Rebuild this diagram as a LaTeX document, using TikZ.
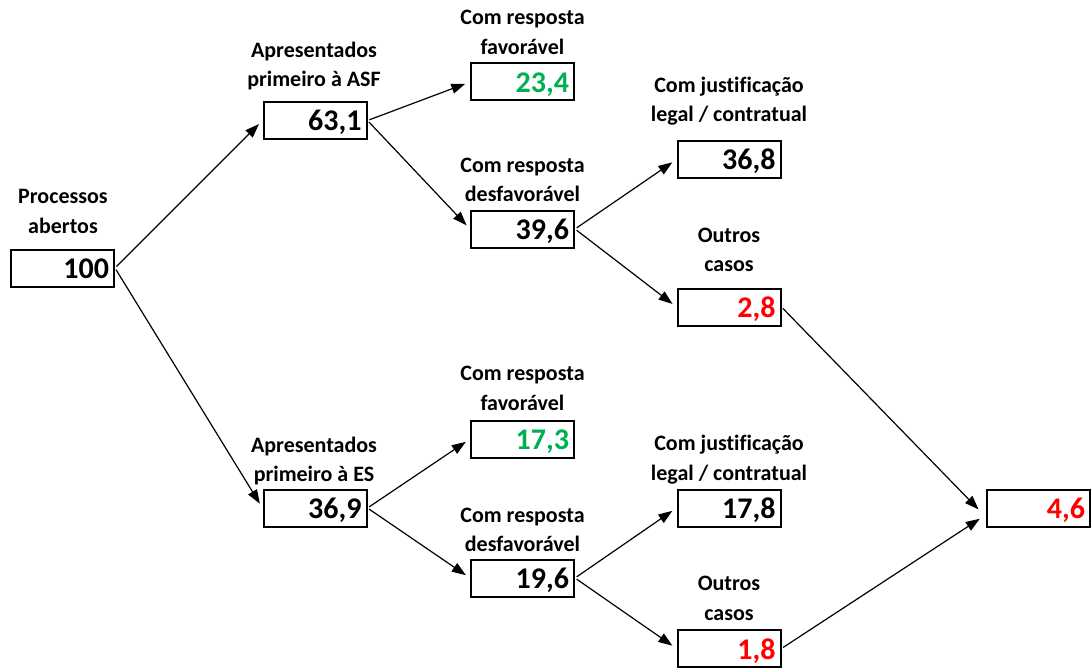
\documentclass[tikz,border=0pt]{standalone}
\usepackage{fontspec}
\setmainfont[Ligatures=NoCommon]{Carlito}
\usepackage{tikz}
\usetikzlibrary{arrows.meta}
\definecolor{okgreen}{RGB}{0,176,80}
\definecolor{nokred}{RGB}{255,0,0}

\tikzset{
	valbox/.style={draw, line width=2pt, text width=93pt, align=right,
		inner xsep=5pt, inner ysep=8pt, text height=21pt, text depth=0pt,
		font=\fontsize{30}{36}\selectfont\bfseries},
	lbl/.style={align=center, anchor=base, inner sep=0pt,
		font=\fontsize{22}{29.5}\selectfont\bfseries},
	flow/.style={line width=1.2pt, -{Triangle[length=14pt,width=10pt]},
		shorten <=2pt, shorten >=5pt}
}

\begin{document}
\begin{tikzpicture}[x=1pt, y=-1pt] % flow of the opened cases
\useasboundingbox (0,0) rectangle (1091,671);

\node[valbox] (n100) at (62.5,268) {100};
\node[valbox] (n631) at (315,120.5) {63,1};
\node[valbox] (n369) at (315,508) {36,9};
\node[valbox, text=okgreen] (n234) at (522.5,82) {23,4};
\node[valbox] (n396) at (522.5,229) {39,6};
\node[valbox, text=okgreen] (n173) at (522.5,439) {17,3};
\node[valbox] (n196) at (522.5,578) {19,6};
\node[valbox] (n368) at (729,159.5) {36,8};
\node[valbox, text=nokred] (n28) at (729,307) {2,8};
\node[valbox] (n178) at (729,508) {17,8};
\node[valbox, text=nokred] (n18) at (729,648.5) {1,8};
\node[valbox, text=nokred] (n46) at (1038.5,508) {4,6};

\node[lbl] (l100) at (63,233.3) {Processos\\abertos};
\node[lbl] (l631) at (314,86.7) {Apresentados\\primeiro à ASF};
\node[lbl] (l369) at (314,481.7) {Apresentados\\primeiro à ES};
\node[lbl] (l234) at (522.5,54.3) {Com resposta\\favorável};
\node[lbl] (l396) at (522.5,201.7) {Com resposta\\desfavorável};
\node[lbl] (l173) at (522.5,410) {Com resposta\\favorável};
\node[lbl] (l196) at (522.5,551.7) {Com resposta\\desfavorável};
\node[lbl] (l368) at (729,121.7) {Com justificação\\legal / contratual};
\node[lbl] (l28) at (729,271.7) {Outros\\casos};
\node[lbl] (l178) at (729,480) {Com justificação\\legal / contratual};
\node[lbl] (l18) at (729,620) {Outros\\casos};

\draw[flow] (n100.east) -- (n631.west);
\draw[flow] (n100.east) -- (n369.west);
\draw[flow] (n631.east) -- (n234.west);
\draw[flow] (n631.east) -- (n396.west);
\draw[flow] (n369.east) -- (n173.west);
\draw[flow] (n369.east) -- (n196.west);
\draw[flow] (n396.east) -- (n368.west);
\draw[flow] (n396.east) -- (n28.west);
\draw[flow] (n196.east) -- (n178.west);
\draw[flow] (n196.east) -- (n18.west);
\draw[flow] (n28.east) -- ([xshift=-4pt,yshift=-5pt]n46.west);
\draw[flow] (n18.east) -- ([xshift=-2pt,yshift=-8pt]n46.west);

\end{tikzpicture}
\end{document}
